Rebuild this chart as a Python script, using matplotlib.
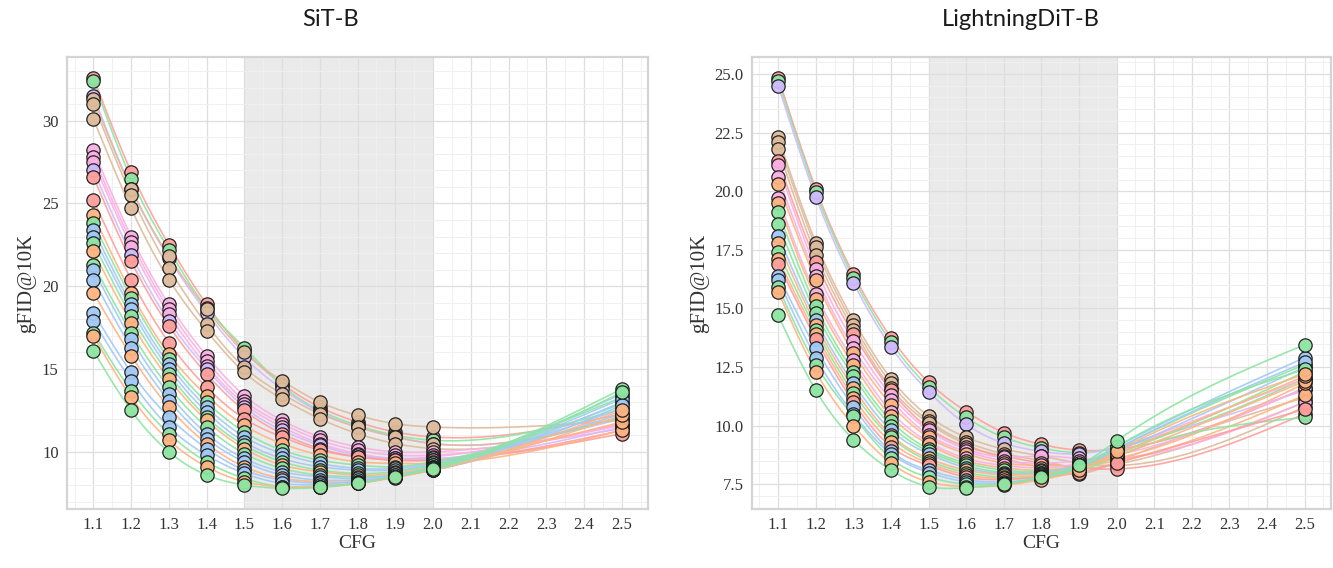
import numpy as np
import matplotlib
matplotlib.use("Agg")
import matplotlib.pyplot as plt
from matplotlib.ticker import MultipleLocator, FormatStrFormatter

# Guidance scales at which each run was evaluated
cfg = [1.1, 1.2, 1.3, 1.4, 1.5, 1.6, 1.7, 1.8, 1.9, 2.0, 2.5]
cfg_ticks = [1.1, 1.2, 1.3, 1.4, 1.5, 1.6, 1.7, 1.8, 1.9, 2.0, 2.1, 2.2, 2.3, 2.4, 2.5]
cfg_tick_labels = ["1.1", "1.2", "1.3", "1.4", "1.5", "1.6", "1.7", "1.8",
                   "1.9", "2.0", "2.1", "2.2", "2.3", "2.4", "2.5"]
sweet_spot = (1.5, 2.0)

palette = {
    "blue": "#a1c9f4", "orange": "#ffb482", "green": "#8de5a1", "red": "#ff9f9b",
    "purple": "#d0bbff", "brown": "#debb9b", "pink": "#fab0e4",
}

# ---------------- SiT-B runs ----------------
sit_colors = [
    "red", "green", "purple", "brown", "brown", "brown",
    "pink", "pink", "pink", "purple", "red",
    "red", "orange", "green", "blue", "blue", "green", "orange", "green",
    "blue", "blue", "orange", "blue", "blue", "green", "orange", "green",
]
sit_gfid = [
    [32.6, 26.9, 22.5, 18.9, 16.1, 14.1, 12.7, 11.8, 11.2, 10.9, 12.3],
    [32.4, 26.5, 22.2, 18.7, 16.3, 14.0, 12.5, 11.6, 11.0, 10.7, 12.6],
    [31.5, 25.9, 21.7, 18.4, 15.7, 13.8, 12.4, 11.5, 10.9, 10.5, 12.0],
    [31.3, 25.9, 21.8, 18.6, 16.0, 14.3, 13.0, 12.2, 11.7, 11.5, 11.9],
    [31.0, 25.5, 21.1, 17.7, 15.1, 13.5, 12.3, 11.5, 10.9, 10.5, 12.1],
    [30.1, 24.7, 20.4, 17.3, 14.8, 13.2, 12.0, 11.1, 10.5, 10.2, 11.7],
    [28.2, 23.0, 18.9, 15.8, 13.4, 11.9, 10.9, 10.3, 10.0, 10.0, 11.4],
    [27.8, 22.7, 18.6, 15.5, 13.1, 11.7, 10.7, 10.1, 9.8, 9.8, 11.7],
    [27.5, 22.4, 18.3, 15.2, 12.9, 11.5, 10.5, 9.9, 9.6, 9.7, 11.6],
    [27.0, 21.9, 17.9, 15.0, 12.7, 11.3, 10.4, 9.8, 9.6, 9.6, 11.5],
    [26.6, 21.5, 17.6, 14.7, 12.5, 11.1, 10.2, 9.7, 9.5, 9.5, 11.3],
    [25.2, 20.4, 16.6, 13.9, 12.0, 10.9, 10.1, 9.7, 9.5, 9.5, 11.1],
    [24.3, 19.6, 15.9, 13.4, 11.6, 10.5, 9.8, 9.4, 9.3, 9.3, 11.3],
    [23.8, 19.3, 15.6, 13.0, 11.2, 10.1, 9.5, 9.2, 9.1, 9.4, 12.1],
    [23.4, 18.9, 15.3, 12.7, 10.9, 9.9, 9.3, 9.0, 9.0, 9.3, 12.6],
    [23.0, 18.6, 15.0, 12.4, 10.6, 9.6, 9.1, 8.9, 8.9, 9.2, 12.3],
    [22.6, 18.2, 14.7, 12.1, 10.4, 9.4, 8.9, 8.7, 8.8, 9.2, 12.9],
    [22.1, 17.8, 14.4, 11.9, 10.2, 9.2, 8.8, 8.6, 8.7, 9.1, 11.8],
    [21.3, 17.2, 13.9, 11.5, 9.9, 9.0, 8.6, 8.5, 8.6, 9.1, 13.3],
    [21.0, 16.8, 13.5, 11.1, 9.6, 8.8, 8.5, 8.4, 8.6, 9.0, 13.0],
    [20.4, 16.3, 13.1, 10.8, 9.4, 8.6, 8.3, 8.3, 8.5, 9.0, 13.5],
    [19.6, 15.8, 12.7, 10.5, 9.1, 8.4, 8.2, 8.2, 8.5, 8.9, 12.2],
    [18.4, 14.8, 12.1, 10.2, 8.9, 8.3, 8.1, 8.2, 8.5, 9.0, 13.2],
    [17.9, 14.3, 11.5, 9.8, 8.7, 8.1, 8.0, 8.1, 8.5, 8.9, 12.8],
    [17.2, 13.7, 11.1, 9.4, 8.4, 7.9, 7.9, 8.1, 8.5, 9.0, 13.8],
    [17.0, 13.3, 10.7, 9.1, 8.2, 7.9, 7.9, 8.1, 8.45, 8.9, 12.5],
    [16.1, 12.5, 10.0, 8.6, 8.0, 7.8, 7.85, 8.1, 8.5, 8.95, 13.6],
]

# ---------------- LightningDiT-B runs ----------------
ldit_colors = [
    "red", "green", "purple",
    "brown", "brown", "brown", "red", "pink", "pink", "orange", "pink",
    "orange", "green", "green", "blue", "orange", "green", "orange", "red",
    "blue", "blue", "green", "orange", "green",
]
ldit_gfid = [
    [24.85, 20.1, 16.45, 13.75, 11.85, 10.6, 9.7, 9.2, 8.95, 9.0, 11.6],
    [24.7, 19.95, 16.3, 13.55, 11.65, 10.35, 9.5, 9.05, 8.85, 9.05, 12.0],
    [24.5, 19.75, 16.1, 13.35, 11.45, 10.05, 9.25, 8.9, 8.8, 9.1, 11.5],
    [22.3, 17.8, 14.5, 12.0, 10.4, 9.5, 9.0, 8.7, 8.4, 8.3, 10.8],
    [22.1, 17.6, 14.3, 11.8, 10.2, 9.3, 8.8, 8.5, 8.2, 8.35, 11.0],
    [21.8, 17.3, 14.1, 11.6, 10.1, 9.2, 8.6, 8.2, 7.95, 8.45, 11.2],
    [21.3, 17.0, 13.9, 11.5, 9.9, 9.1, 8.7, 8.4, 8.2, 8.15, 10.5],
    [21.1, 16.7, 13.6, 11.3, 9.8, 9.0, 8.65, 8.7, 8.6, 8.6, 11.0],
    [20.6, 16.4, 13.3, 11.1, 9.6, 8.9, 8.5, 8.4, 8.5, 8.75, 11.6],
    [20.3, 16.2, 13.1, 10.9, 9.5, 8.8, 8.4, 8.3, 8.3, 8.5, 11.3],
    [19.7, 15.6, 12.8, 10.6, 9.3, 8.6, 8.3, 8.2, 8.4, 8.95, 12.0],
    [19.5, 15.4, 12.6, 10.4, 9.2, 8.5, 8.2, 8.1, 8.3, 8.6, 11.8],
    [19.1, 15.1, 12.3, 10.2, 9.0, 8.4, 8.1, 8.05, 8.3, 8.8, 12.3],
    [18.6, 14.8, 12.1, 10.0, 8.9, 8.3, 8.0, 8.0, 8.1, 8.7, 10.35],
    [18.1, 14.5, 11.8, 9.8, 8.8, 8.2, 7.95, 8.0, 8.3, 8.9, 12.5],
    [17.8, 14.3, 11.6, 9.6, 8.6, 8.1, 7.9, 7.95, 8.2, 8.7, 11.9],
    [17.4, 14.1, 11.4, 9.5, 8.5, 8.0, 7.8, 7.9, 8.25, 9.0, 12.6],
    [17.1, 13.9, 11.2, 9.3, 8.4, 7.9, 7.75, 7.85, 8.2, 8.8, 12.1],
    [16.9, 13.7, 11.0, 9.1, 8.3, 7.8, 7.7, 7.8, 8.0, 8.4, 10.7],
    [16.4, 13.3, 10.8, 8.9, 8.1, 7.7, 7.6, 7.8, 8.3, 9.1, 12.9],
    [16.2, 12.9, 10.5, 8.8, 8.0, 7.6, 7.55, 7.75, 8.2, 9.0, 12.7],
    [15.9, 12.6, 10.4, 8.6, 7.8, 7.5, 7.5, 7.75, 8.2, 9.1, 12.4],
    [15.7, 12.3, 10.0, 8.4, 7.6, 7.4, 7.45, 7.7, 8.1, 8.9, 12.2],
    [14.7, 11.5, 9.4, 8.1, 7.4, 7.35, 7.5, 7.8, 8.3, 9.35, 13.45],
]

panels = [
    ("SiT-B", sit_colors, sit_gfid, 5, 1, "%d"),
    ("LightningDiT-B", ldit_colors, ldit_gfid, 2.5, 0.5, "%.1f"),
]


def natural_cubic_spline(x, y, xs):
    """Evaluate the natural cubic spline through (x, y) at xs."""
    x = np.asarray(x, float)
    y = np.asarray(y, float)
    n = len(x)
    h = np.diff(x)
    A = np.zeros((n, n))
    r = np.zeros(n)
    A[0, 0] = A[-1, -1] = 1.0
    for i in range(1, n - 1):
        A[i, i - 1] = h[i - 1]
        A[i, i] = 2.0 * (h[i - 1] + h[i])
        A[i, i + 1] = h[i]
        r[i] = 3.0 * ((y[i + 1] - y[i]) / h[i] - (y[i] - y[i - 1]) / h[i - 1])
    c = np.linalg.solve(A, r)
    b = (y[1:] - y[:-1]) / h - h * (2.0 * c[:-1] + c[1:]) / 3.0
    d = (c[1:] - c[:-1]) / (3.0 * h)
    idx = np.clip(np.searchsorted(x, xs) - 1, 0, n - 2)
    t = xs - x[idx]
    return y[idx] + b[idx] * t + c[idx] * t ** 2 + d[idx] * t ** 3


serif = ["Liberation Serif", "DejaVu Serif"]
plt.rcParams["font.family"] = serif

fig = plt.figure(figsize=(13.33, 5.68), dpi=100)
axes = [fig.add_axes([0.0503, 0.1039, 0.4359, 0.7957]),
        fig.add_axes([0.5641, 0.1039, 0.4344, 0.7957])]
title_x = [0.2476, 0.7660]

x_fine = np.linspace(cfg[0], cfg[-1], 400)
for ax, (title, colors, gfid, major, minor, fmt), tx in zip(axes, panels, title_x):
    ax.axvspan(*sweet_spot, color="#eaeaea", zorder=0.3, lw=0)
    for c, y in zip(colors, gfid):
        ax.plot(x_fine, natural_cubic_spline(cfg, y, x_fine), color=palette[c],
                lw=1.2, alpha=0.9, zorder=2)
    for c, y in zip(colors, gfid):
        ax.scatter(cfg, y, s=92, color=palette[c], edgecolor="#1a1a1a",
                   linewidth=0.9, alpha=0.95, zorder=3)

    ax.set_xticks(cfg_ticks)
    ax.set_xticklabels(cfg_tick_labels)
    ax.xaxis.set_minor_locator(MultipleLocator(0.05))
    ax.yaxis.set_major_locator(MultipleLocator(major))
    ax.yaxis.set_minor_locator(MultipleLocator(minor))
    ax.yaxis.set_major_formatter(FormatStrFormatter(fmt))
    ax.grid(which="major", color="#dedede", lw=0.9)
    ax.grid(which="minor", color="#f0f0f0", lw=0.7)
    ax.set_axisbelow(True)
    ax.tick_params(which="both", length=0, labelsize=12, colors="#333333", pad=6)
    for sp in ax.spines.values():
        sp.set_color("#d4d4d4")
        sp.set_linewidth(1.6)
    ax.set_xlabel("CFG", fontsize=14, color="#333333", labelpad=1)
    ax.set_ylabel("gFID@10K", fontsize=15, color="#333333", labelpad=4)
    fig.text(tx, 0.965, title, ha="center", va="center", fontsize=17,
             family=["Lato", "DejaVu Sans"], color="#1a1a1a")

fig.savefig("out.png", dpi=100)
